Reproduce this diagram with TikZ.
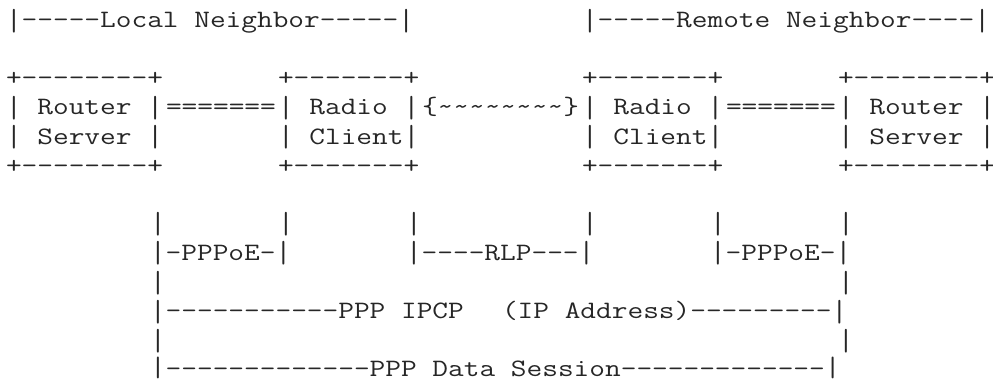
\documentclass[tikz,border=0pt]{standalone}
\newcommand\hy[1]{\foreach\k in {1,...,#1}{\mbox{-}}}
\newcommand\tl[1]{\foreach\k in {1,...,#1}{\mbox{\textasciitilde}}}
\newcommand\bb{\raisebox{-2.5pt}{\scalebox{1}[1.22]{|}}}
\newcommand\bt{\raisebox{0pt}{\scalebox{1}[1.12]{|}}}
\tikzset{
  txt/.style={anchor=base west, inner sep=0pt, outer sep=0pt,
    font=\ttfamily\fontsize{25}{25}\selectfont, xscale=1.219, text=black!85}
}
\newcommand\seg[4]{\node[txt] (#1) at ({6+16*#2},{27.6+29.1*(#3-1)}) {#4};}
\begin{document}
\begin{tikzpicture}[x=1pt,y=-1pt]
\useasboundingbox[fill=white] (0,0) rectangle (993,383);
% row 1
\seg{ln}{0}{1}{\bb\hy{5}Local Neighbor\hy{5}\bb}
\seg{rn}{36}{1}{\bb\hy{5}Remote Neighbor\hy{4}\bb}
% row 3
\seg{lrt}{0}{3}{+\hy{8}+}
\seg{lct}{17}{3}{+\hy{7}+}
\seg{rct}{36}{3}{+\hy{7}+}
\seg{rrt}{52}{3}{+\hy{8}+}
% row 4
\seg{lr}{0}{4}{\bb{} Router \bb}
\seg{leq}{10}{4}{=======}
\seg{lc}{17}{4}{\bb{} Radio \bb}
\seg{air}{26}{4}{\{\tl{8}\}}
\seg{rc}{36}{4}{\bb{} Radio \bb}
\seg{req}{45}{4}{=======}
\seg{rr}{52}{4}{\bb{} Router \bb}
% row 5
\seg{lrs}{0}{5}{\bb{} Server \bb}
\seg{lcc}{17}{5}{\bb{} Client\bb}
\seg{rcc}{36}{5}{\bb{} Client\bb}
\seg{rrs}{52}{5}{\bb{} Server \bb}
% row 6
\seg{lrb}{0}{6}{+\hy{8}+}
\seg{lcb}{17}{6}{+\hy{7}+}
\seg{rcb}{36}{6}{+\hy{7}+}
\seg{rrb}{52}{6}{+\hy{8}+}
% row 8
\seg{b1}{9}{8}{\bb}
\seg{b2}{17}{8}{\bb}
\seg{b3}{25}{8}{\bb}
\seg{b4}{36}{8}{\bb}
\seg{b5}{44}{8}{\bb}
\seg{b6}{52}{8}{\bb}
% row 9
\seg{pl}{9}{9}{\bb\hy{1}PPPoE\hy{1}\bb}
\seg{rlp}{25}{9}{\bb\hy{4}RLP\hy{3}\bb}
\seg{pr}{44}{9}{\bb\hy{1}PPPoE\hy{1}\bb}
% row 10
\seg{c1}{9}{10}{\bb}
\seg{c2}{52}{10}{\bb}
% row 11
\seg{ipcp}{9}{11}{\bb\hy{11}PPP IPCP}
\seg{ipa}{31}{11}{(IP Address)\hy{9}\bb}
% row 12
\seg{d1}{9}{12}{\bb}
\seg{d2}{52}{12}{\bb}
% row 13
\seg{data}{9}{13}{\bt\hy{13}PPP Data Session\hy{13}\bt}
\end{tikzpicture}
\end{document}
